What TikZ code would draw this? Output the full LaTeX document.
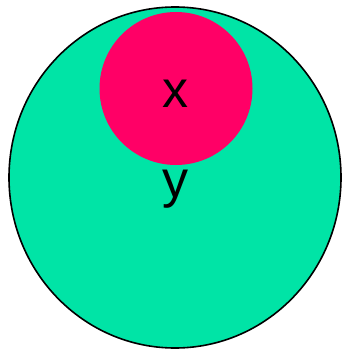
\documentclass[tikz,border=0pt]{standalone}
\usepackage{fontspec}
\setmainfont{Liberation Sans}
\usetikzlibrary{shapes.geometric}
\definecolor{bigfill}{RGB}{0,228,166}
\definecolor{smallfill}{RGB}{255,0,102}
\tikzset{
  lbl/.style={font=\fontsize{52}{52}\selectfont, inner sep=0pt, anchor=base, text=black},
}
\begin{document}
\begin{tikzpicture}[x=1pt,y=-1pt]
\useasboundingbox (0,0) rectangle (341,350);
\node (big) [ellipse, draw=black, line width=1.6pt, fill=bigfill, inner sep=0pt,
  minimum width=332pt, minimum height=341pt] at (175,177.5) {};
\node (small) [circle, fill=smallfill, inner sep=0pt, minimum size=153pt] at (176,88.5) {};
\node (xl) [lbl] at (175.5,107) {x};
\node (yl) [lbl] at (175.5,197) {y};
\end{tikzpicture}
\end{document}
